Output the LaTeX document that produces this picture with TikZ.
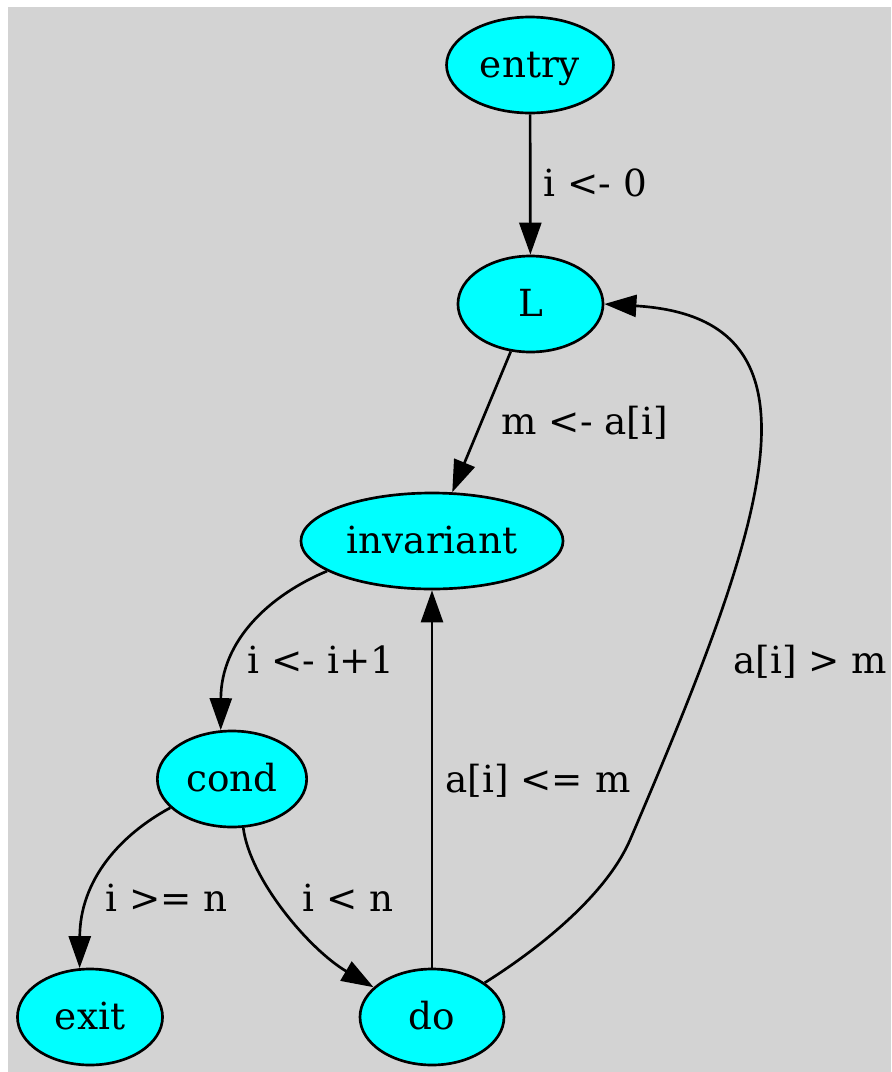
\documentclass[tikz,border=0pt]{standalone}
\usepackage{fontspec}
\setmainfont{DejaVu Serif}
\usetikzlibrary{shapes.geometric,arrows.meta}
\definecolor{bggray}{HTML}{D3D3D3}
\definecolor{nodecyan}{HTML}{00FFFF}
\begin{document}
\begin{tikzpicture}[x=0.375pt,y=-0.375pt,
  every node/.style={font=\fontsize{14pt}{17pt}\selectfont},
  gnode/.style={ellipse,draw,fill=nodecyan,line width=1pt,minimum height=36pt,inner sep=0pt,text height=10pt,text depth=1pt},
  edge/.style={line width=1pt,-{Triangle[length=12pt,width=8.25pt]}},
  elabel/.style={anchor=base west,inner sep=0pt}]
\useasboundingbox (0,0) rectangle (891,1072);
\fill[bggray] (8,7) rectangle (891,1072);
% nodes
\node[gnode,minimum width=62.6pt] (entry) at (530,65) {entry};
\node[gnode,minimum width=54.4pt] (L) at (530.5,304) {L};
\node[gnode,minimum width=98.3pt] (invariant) at (432,541) {invariant};
\node[gnode,minimum width=56pt] (cond) at (232,779) {cond};
\node[gnode,minimum width=54.4pt] (exit) at (90,1017) {exit};
\node[gnode,minimum width=54pt] (do) at (432,1017) {do};
\coordinate (m1) at (630,840);
% edges
\draw[edge] (entry) -- (L);
\draw[edge] (L) -- (invariant);
\draw[edge] (invariant.196) .. controls (270,595) and (221,640) .. (cond.103);
\draw[edge] (cond.205) .. controls (120,835) and (80,880) .. (exit.102);
\draw[edge] (cond.283) .. controls (250,880) and (310,950) .. (do.153);
\draw[edge] (do) -- (invariant);
\draw[edge] (do.33) .. controls (540,948) and (606,895) .. (m1)
  .. controls (764,527) and (840,318) .. (L.east);
% labels
\node[elabel] (l1) at (543,196) {i <- 0};
\node[elabel] (l2) at (501,434) {m <- a[i]};
\node[elabel] (l3) at (247,673) {i <- i+1};
\node[elabel] (l4) at (105,911) {i >= n};
\node[elabel] (l5) at (302,911) {i < n};
\node[elabel] (l6) at (445,792) {a[i] <= m};
\node[elabel] (l7) at (733,673) {a[i] > m};
\end{tikzpicture}
\end{document}
